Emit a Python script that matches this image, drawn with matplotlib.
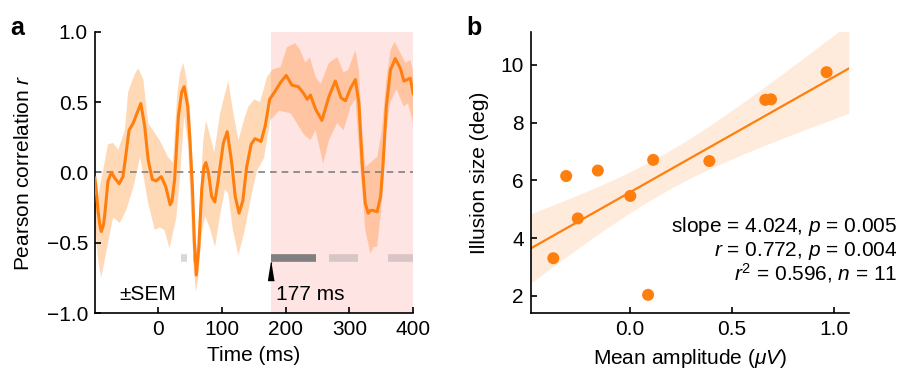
import numpy as np
import matplotlib
matplotlib.use("Agg")
import matplotlib.pyplot as plt

plt.rcParams['font.family'] = ['Liberation Sans', 'DejaVu Sans']
plt.rcParams['mathtext.fontset'] = 'custom'
plt.rcParams['mathtext.rm'] = 'Liberation Sans'
plt.rcParams['mathtext.it'] = 'Liberation Sans:italic'

# ---- panel a: correlation time course ----
t_line = [-99, -97, -94, -91, -89, -86, -84, -81, -78.5, -73, -68, -61, -55, -50, -45.5,
          -39, -34, -27, -21, -15.5, -9, -3, 5, 12, 19, 22, 26, 28.5, 31.9, 37, 41, 46.5,
          50, 54, 57, 60, 64, 68.5, 72, 75, 79, 84, 89, 94.5, 102.5, 108.5, 115.5, 121,
          127, 133, 139, 146, 152, 157, 161.5, 168, 175, 184, 192, 201, 210, 220, 228.5,
          234, 239, 247, 257, 268, 278, 287, 294, 302, 309.5, 315, 320, 325, 329.5, 333,
          337, 343.5, 349, 353, 358, 364.5, 372, 380, 385.5, 390.5, 395.5, 400]
r_line = [-0.04, -0.12, -0.28, -0.38, -0.42, -0.38, -0.32, -0.18, -0.06, 0.0, -0.04, -0.08,
          -0.03, 0.14, 0.30, 0.35, 0.41, 0.49, 0.33, 0.09, -0.05, -0.06, -0.03, -0.10, -0.23,
          -0.20, -0.05, 0.14, 0.40, 0.57, 0.61, 0.47, 0.23, -0.12, -0.50, -0.73, -0.53,
          -0.12, 0.04, 0.07, 0.0, -0.17, -0.21, -0.05, 0.21, 0.29, 0.07, -0.17, -0.29,
          -0.20, 0.04, 0.20, 0.24, 0.23, 0.22, 0.33, 0.52, 0.58, 0.64, 0.69, 0.62, 0.61,
          0.56, 0.52, 0.55, 0.45, 0.37, 0.54, 0.65, 0.53, 0.51, 0.60, 0.66, 0.49, 0.07,
          -0.22, -0.29, -0.27, -0.27, -0.28, -0.17, 0.07, 0.47, 0.73, 0.81, 0.74, 0.65,
          0.66, 0.67, 0.56]

t_upper = [-99, -94, -86, -78.5, -70.5, -62.5, -52, -47, -36.5, -31, -23, -15.5, -8, 2.5,
           15.5, 23.5, 26.5, 30, 34, 39.5, 44, 50, 54.5, 58, 61, 65, 71, 75.3, 81.5, 88,
           97.3, 105, 110.3, 117, 126, 136.5, 142, 151, 160, 171, 178.8, 192, 202, 215,
           223, 231, 238, 247, 255, 268, 281, 291, 298, 309.5, 315, 320, 325, 333, 343.5,
           351, 358, 364.5, 371, 380, 388, 395.5, 400]
r_upper = [0.0, -0.17, 0.02, 0.20, 0.21, 0.16, 0.30, 0.57, 0.70, 0.74, 0.66, 0.35, 0.30,
           0.23, 0.11, 0.07, 0.30, 0.55, 0.70, 0.78, 0.68, 0.45, 0.05, -0.45, -0.55, -0.25,
           0.23, 0.37, 0.26, 0.14, 0.42, 0.56, 0.65, 0.45, 0.23, 0.40, 0.47, 0.52, 0.50,
           0.68, 0.73, 0.75, 0.89, 0.92, 0.87, 0.78, 0.82, 0.68, 0.63, 0.78, 0.82, 0.71,
           0.73, 0.87, 0.73, 0.30, 0.04, 0.07, 0.11, 0.30, 0.66, 0.87, 0.93, 0.85, 0.78,
           0.80, 0.72]

t_lower = [-99, -94, -89, -81, -70.5, -60, -50, -39, -28, -15.5, -5, 2.5, 10, 18, 28.7,
           34.5, 41, 47, 52, 56, 59.5, 63, 68, 73.8, 81.5, 89.4, 97, 105, 110, 117, 126,
           136.5, 146, 155, 166, 176, 190, 208, 228.5, 239, 247, 259, 268, 281, 291, 302,
           309.5, 316, 325, 333, 338, 343.5, 349, 353, 358, 364, 374, 385, 392, 400]
r_lower = [-0.35, -0.62, -0.75, -0.56, -0.32, -0.36, -0.27, -0.11, 0.11, -0.22, -0.41,
           -0.39, -0.41, -0.54, -0.32, -0.03, 0.40, 0.20, -0.30, -0.70, -0.85, -0.75,
           -0.45, -0.31, -0.40, -0.53, -0.31, -0.12, -0.15, -0.40, -0.59, -0.40, -0.17,
           0.01, 0.10, 0.37, 0.44, 0.42, 0.27, 0.23, 0.30, 0.06, 0.23, 0.35, 0.30, 0.47,
           0.52, 0.11, -0.41, -0.58, -0.53, -0.53, -0.31, -0.10, 0.30, 0.50, 0.59, 0.47,
           0.49, 0.35]

window = (177, 400)
onset_ms = 177
sig_start = [36, 55, 177.5, 268, 361]
sig_end = [45, 63, 247, 314, 400]
sig_strong = [False, False, True, False, False]

# ---- panel b: scatter ----
amp = [-0.374, -0.311, -0.254, -0.156, 0.003, 0.090, 0.115, 0.39, 0.664, 0.692, 0.964]
illusion = [3.3, 6.15, 4.68, 6.34, 5.46, 2.03, 6.71, 6.67, 8.79, 8.81, 9.75]
stats_lines = ["slope = 4.024, $p$ = 0.005",
               "$r$ = 0.772, $p$ = 0.004",
               "$r^2$ = 0.596, $n$ = 11"]

orange = '#ff7f0e'
fs = 15

fig = plt.figure(figsize=(9.04, 3.70), dpi=100)
ax1 = fig.add_axes([0.105, 0.154, 0.352, 0.76])
ax2 = fig.add_axes([0.587, 0.154, 0.352, 0.76])

for ax in (ax1, ax2):
    ax.spines['top'].set_visible(False)
    ax.spines['right'].set_visible(False)
    ax.spines['left'].set_linewidth(1.2)
    ax.spines['bottom'].set_linewidth(1.2)
    ax.tick_params(direction='in', length=4, width=1.2, labelsize=fs, pad=5)

# panel a
ax1.axvspan(window[0], window[1], color='red', alpha=0.105, lw=0, zorder=0)
ax1.fill(np.r_[t_upper, t_lower[::-1]], np.r_[r_upper, r_lower[::-1]],
         color=orange, alpha=0.3, lw=0, zorder=1)
ax1.axhline(0, color='#808080', ls=(0, (4, 3)), lw=1.2, zorder=2)
ax1.plot(t_line, r_line, color=orange, lw=2.2, zorder=3, solid_joinstyle='round')
for s, e, strong in zip(sig_start, sig_end, sig_strong):
    ax1.hlines(-0.607, s, e, color='#808080', alpha=1.0 if strong else 0.3,
               lw=5.5, capstyle='butt', zorder=2)
tri = [(0, 1), (-0.32, -1), (0.32, -1)]
ax1.plot([onset_ms], [-0.70], marker=tri, ms=13, color='black', zorder=4, clip_on=False)
ax1.text(-61, -0.905, '±SEM', fontsize=fs, va='baseline', ha='left')
ax1.text(185, -0.905, f'{onset_ms} ms', fontsize=fs, va='baseline', ha='left')
ax1.set_xlim(-99, 400)
ax1.set_ylim(-1, 1)
ax1.set_xticks([0, 100, 200, 300, 400])
ax1.set_yticks([-1, -0.5, 0, 0.5, 1])
ax1.set_yticklabels(['\u22121.0', '\u22120.5', '0.0', '0.5', '1.0'])
ax1.set_xlabel('Time (ms)', fontsize=fs, labelpad=5)
ax1.set_ylabel('Pearson correlation $r$', fontsize=fs, labelpad=10)

# panel b
x = np.array(amp)
y = np.array(illusion)
slope, icpt = np.polyfit(x, y, 1)
xlim = (-0.485, 1.073)
xs = np.linspace(xlim[0], xlim[1], 200)
n = len(x)
resid = y - (slope * x + icpt)
s_err = np.sqrt(np.sum(resid ** 2) / (n - 2))
ci = 1.4 * s_err * np.sqrt(1 / n + (xs - x.mean()) ** 2 / np.sum((x - x.mean()) ** 2))
fit = slope * xs + icpt
ax2.fill_between(xs, fit - ci, fit + ci, color=orange, alpha=0.15, lw=0, zorder=1)
ax2.plot(xs, fit, color=orange, lw=1.6, zorder=2)
ax2.scatter(x, y, s=75, color=orange, edgecolors='none', zorder=3)
ax2.set_xlim(*xlim)
ax2.set_ylim(1.4, 11.15)
ax2.set_xticks([0, 0.5, 1.0])
ax2.set_xticklabels(['0.0', '0.5', '1.0'])
ax2.set_yticks([2, 4, 6, 8, 10])
ax2.set_xlabel('Mean amplitude ($\\mu V$)', fontsize=fs, labelpad=6)
ax2.set_ylabel('Illusion size (deg)', fontsize=fs, labelpad=8)
for i, line in enumerate(stats_lines):
    fig.text(0.993, 1 - (231.7 + 24.5 * i) / 370, line, fontsize=fs,
             ha='right', va='baseline')

fig.text(0.011, 0.905, 'a', fontsize=18, fontweight='bold')
fig.text(0.516, 0.905, 'b', fontsize=18, fontweight='bold')

fig.savefig('out.png', dpi=100)
